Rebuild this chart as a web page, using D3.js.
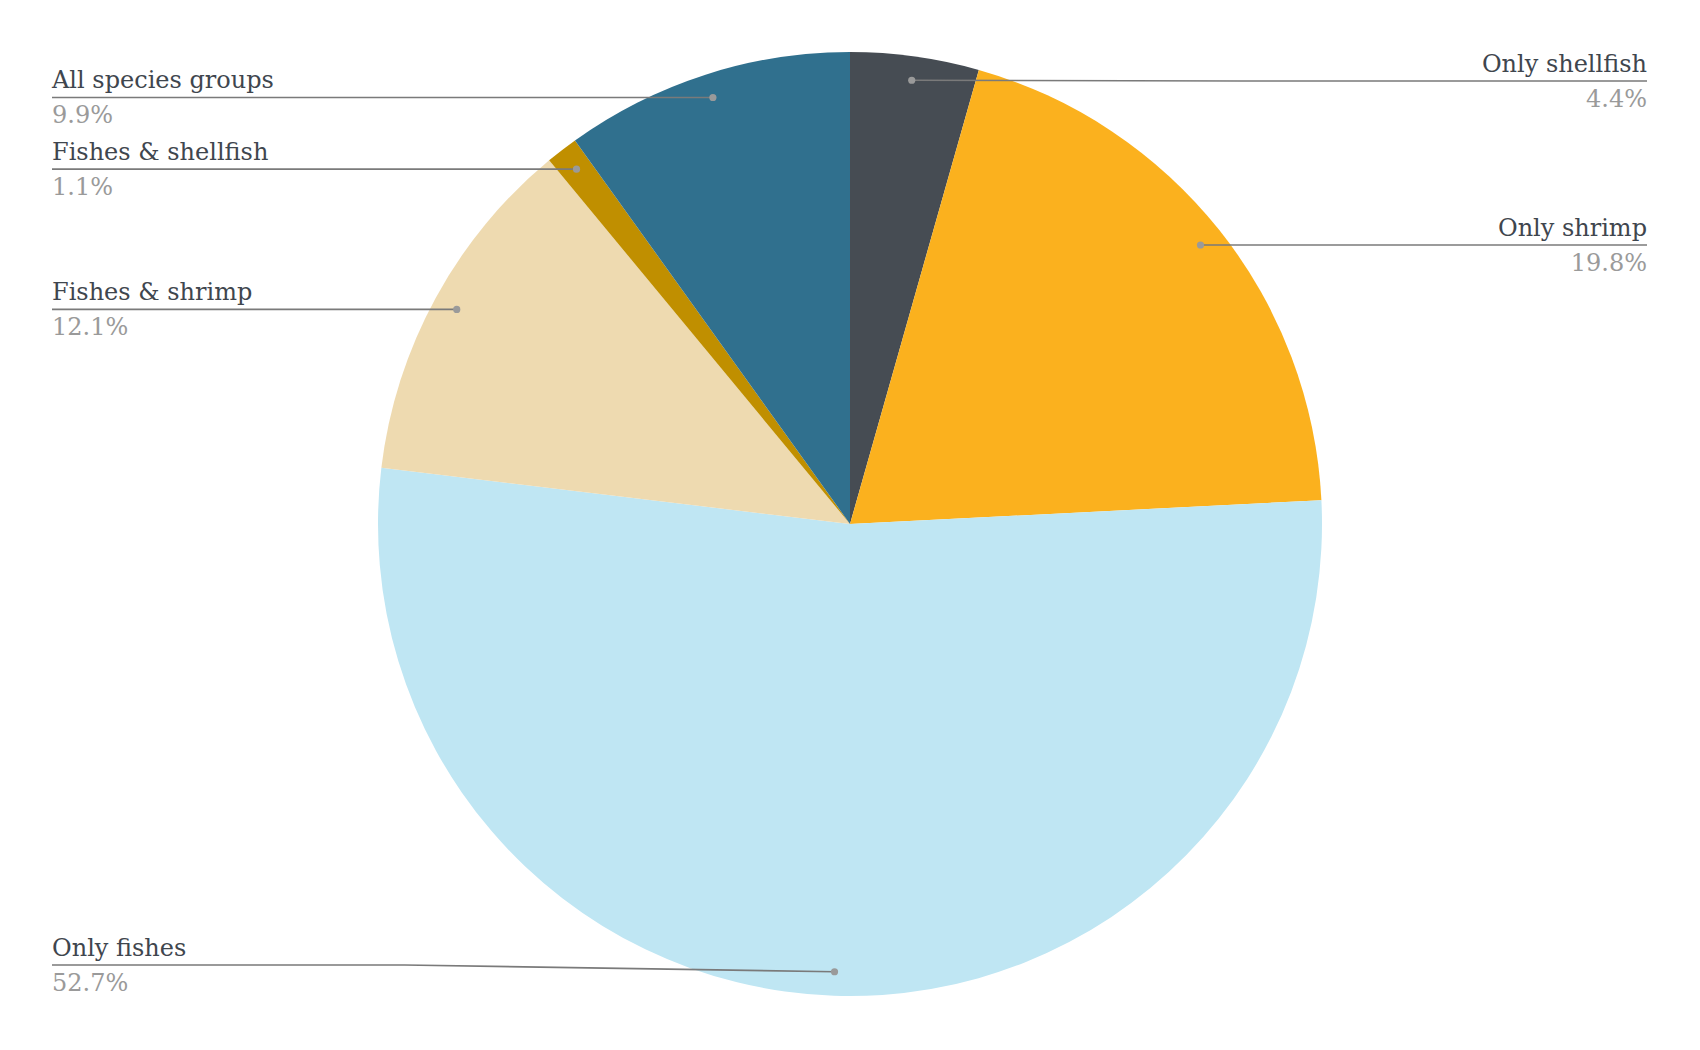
<!DOCTYPE html>
<html>
<head>
<meta charset="utf-8">
<script src="https://cdn.jsdelivr.net/npm/d3@7"></script>
<style>
html,body{margin:0;padding:0;background:#fff;}
svg{display:block;}
</style>
</head>
<body>
<svg id="chart" width="1700" height="1050"></svg>
<script>
// Data (clockwise from 12 o'clock)
const categories = ["Only shellfish", "Only shrimp", "Only fishes", "Fishes & shrimp", "Fishes & shellfish", "All species groups"];
const values = [4.4, 19.8, 52.7, 12.1, 1.1, 9.9];
const colors = ["#464c53", "#fbb11e", "#bfe6f3", "#eedab0", "#c08f00", "#30708e"];

const W = 1700, H = 1050;
const cx = 850, cy = 524, R = 472;
const dotR = 448;
const leftX = 52, rightX = 1647;
const minLabelY = 81, maxLabelY = 965;

const svg = d3.select("#chart");
const g = svg.append("g").attr("transform", `translate(${cx},${cy})`);

const data = categories.map((c, i) => ({ name: c, value: values[i], color: colors[i] }));
const pie = d3.pie().value(d => d.value).sort(null);
const arc = d3.arc().innerRadius(0).outerRadius(R);
const arcs = pie(data);

g.selectAll("path.slice").data(arcs).join("path")
  .attr("class", "slice")
  .attr("d", arc)
  .attr("fill", d => d.data.color);

const fmt = d3.format(".1f");
const labels = svg.append("g");

arcs.forEach(a => {
  const mid = (a.startAngle + a.endAngle) / 2;
  const dx = cx + dotR * Math.sin(mid);
  const dy = cy - dotR * Math.cos(mid);
  const right = Math.sin(mid) > 0;
  const ly = Math.max(minLabelY, Math.min(maxLabelY, dy));
  const endX = right ? rightX : leftX;
  const elbowX = right ? dx + 330 : dx - 430;
  let pts;
  if (Math.abs(ly - dy) > 0.5) {
    pts = [[dx, dy], [elbowX, ly], [endX, ly]];
  } else {
    pts = [[dx, dy], [endX, ly]];
  }
  labels.append("path")
    .attr("d", d3.line()(pts))
    .attr("fill", "none")
    .attr("stroke", "#7a7a7a")
    .attr("stroke-width", 1.6);
  labels.append("circle")
    .attr("cx", dx).attr("cy", dy).attr("r", 3.6)
    .attr("fill", "#9a9a9a");
  labels.append("text")
    .attr("x", endX).attr("y", ly - 9)
    .attr("text-anchor", right ? "end" : "start")
    .attr("font-family", "'DejaVu Serif', Georgia, serif")
    .attr("font-size", 24)
    .attr("fill", "#3f464e")
    .text(a.data.name);
  labels.append("text")
    .attr("x", endX).attr("y", ly + 26)
    .attr("text-anchor", right ? "end" : "start")
    .attr("font-family", "'DejaVu Serif', Georgia, serif")
    .attr("font-size", 24)
    .attr("fill", "#9a9a9a")
    .text(fmt(a.data.value) + "%");
});
</script>
</body>
</html>
